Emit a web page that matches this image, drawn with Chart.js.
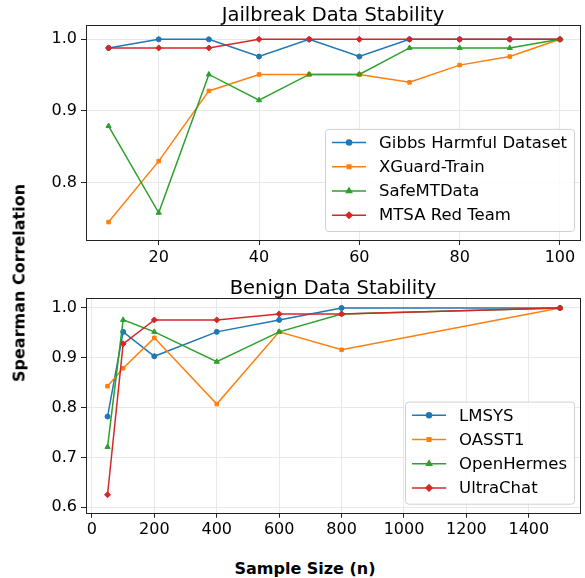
<!DOCTYPE html>
<html>
<head>
<meta charset="utf-8">
<script src="https://cdn.jsdelivr.net/npm/chart.js@4.4.0/dist/chart.umd.min.js"></script>
<style>
    body { margin: 0; background: #fff; width: 585px; height: 578px; position: relative; overflow: hidden; font-family: 'DejaVu Sans', sans-serif; }
    canvas { position: absolute; left: 0; }
    #jailbreakChart { top: 0; }
    #benignChart { top: 273px; }
    .ylabel { position: absolute; left: 19px; top: 283px; transform: translate(-50%, -50%) rotate(-90deg); font-weight: bold; font-size: 16px; white-space: nowrap; color: #000; }
    .xlabel { position: absolute; left: 305px; top: 568px; transform: translate(-50%, -50%); font-weight: bold; font-size: 16px; white-space: nowrap; color: #000; }
</style>
</head>
<body>
<canvas id="jailbreakChart" width="585" height="265"></canvas>
<canvas id="benignChart" width="585" height="267"></canvas>
<div class="ylabel">Spearman Correlation</div>
<div class="xlabel">Sample Size (n)</div>
<script>
// Jailbreak - dados
const jailbreakSizes = [10, 20, 30, 40, 50, 60, 70, 80, 90, 100];
const gibbsHarmful = [0.988, 1.0, 1.0, 0.976, 1.0, 0.976, 1.0, 1.0, 1.0, 1.0];
const xguardTrain = [0.745, 0.830, 0.928, 0.951, 0.951, 0.951, 0.940, 0.964, 0.976, 1.0];
const safeMTData = [0.879, 0.758, 0.951, 0.915, 0.951, 0.951, 0.988, 0.988, 0.988, 1.0];
const mtsaRedTeam = [0.988, 0.988, 0.988, 1.0, 1.0, 1.0, 1.0, 1.0, 1.0, 1.0];
const jailbreakXTicks = [20, 40, 60, 80, 100];
const jailbreakYTicks = [0.8, 0.9, 1.0];

// Benign
const benignSizes = [50, 100, 200, 400, 600, 800, 1500];
const lmsys = [0.782, 0.952, 0.903, 0.952, 0.976, 1.0, 1.0];
const oasst1 = [0.843, 0.879, 0.940, 0.807, 0.952, 0.916, 1.0];
const openHermes = [0.721, 0.976, 0.952, 0.892, 0.952, 0.988, 1.0];
const ultraChat = [0.625, 0.928, 0.976, 0.976, 0.988, 0.988, 1.0];
const benignXTicks = [0, 200, 400, 600, 800, 1000, 1200, 1400];
const benignYTicks = [0.6, 0.7, 0.8, 0.9, 1.0];

const cores = ['#1f77b4', '#ff7f0e', '#2ca02c', '#d62728'];
const marcadores = ['circle', 'rect', 'triangle', 'rectRot'];
const raios = [2.5, 2.5, 3, 3];

Chart.defaults.font.family = "'DejaVu Sans', sans-serif";
Chart.defaults.color = '#000';

// moldura dos eixos + titulo centrado na area do grafico (estilo matplotlib)
const frame = {
    id: 'frame',
    afterDatasetsDraw(chart, args, opts) {
        const { ctx, chartArea: a } = chart;
        ctx.save();
        ctx.strokeStyle = '#222';
        ctx.lineWidth = 1;
        ctx.strokeRect(Math.round(a.left) + 0.5, Math.round(a.top) + 0.5, Math.round(a.right - a.left), Math.round(a.bottom - a.top));
        ctx.fillStyle = '#000';
        ctx.font = "19.5px 'DejaVu Sans'";
        ctx.textAlign = 'center';
        ctx.textBaseline = 'alphabetic';
        ctx.fillText(opts.titulo, (a.left + a.right) / 2, a.top - 4.5);
        ctx.restore();
    }
};

// legenda dentro do grafico, canto inferior direito
const legendBox = {
    id: 'legendBox',
    afterDraw(chart) {
        const { ctx, chartArea: a } = chart;
        const sets = chart.data.datasets;
        ctx.save();
        ctx.font = "16.5px 'DejaVu Sans'";
        const textW = Math.max(...sets.map(d => ctx.measureText(d.label).width));
        const w = 7 + 34 + 13 + textW + 7;
        const h = 13.7 + 24.2 * (sets.length - 1) + 15.8;
        const x0 = a.right - 6 - w;
        const y0 = a.bottom - 9 - h;
        ctx.beginPath();
        ctx.roundRect(x0 + 0.5, y0 + 0.5, w, h, 3);
        ctx.fillStyle = 'rgba(255,255,255,0.8)';
        ctx.fill();
        ctx.strokeStyle = '#d0d0d0';
        ctx.lineWidth = 1;
        ctx.stroke();
        sets.forEach((d, i) => {
            const y = y0 + 13.7 + i * 24.2;
            ctx.beginPath();
            ctx.moveTo(x0 + 7, y);
            ctx.lineTo(x0 + 41, y);
            ctx.strokeStyle = d.borderColor;
            ctx.lineWidth = 1.5;
            ctx.stroke();
            ctx.fillStyle = d.borderColor;
            ctx.strokeStyle = d.borderColor;
            Chart.helpers.drawPoint(ctx, { pointStyle: d.pointStyle, radius: d.pointRadius, borderWidth: 1 }, x0 + 24, y);
            ctx.fillStyle = '#000';
            ctx.textBaseline = 'middle';
            ctx.textAlign = 'left';
            ctx.fillText(d.label, x0 + 54, y + 1);
        });
        ctx.restore();
    }
};

function montarSeries(nomes, valores, xs) {
    return nomes.map((nome, i) => ({
        label: nome,
        data: xs.map((x, j) => ({ x: x, y: valores[i][j] })),
        borderColor: cores[i],
        backgroundColor: cores[i],
        pointStyle: marcadores[i],
        pointRadius: raios[i],
        pointBorderWidth: 1,
        borderWidth: 1.5,
        tension: 0,
        fill: false,
        order: nomes.length - 1 - i
    }));
}

function criarGrafico(id, titulo, datasets, xMin, xMax, xTicks, yMin, yMax, yTicks, xAxisH) {
    return new Chart(document.getElementById(id), {
        type: 'line',
        data: { datasets: datasets },
        options: {
            responsive: false,
            animation: false,
            layout: { padding: { left: 0, right: 4, top: 25, bottom: 0 } },
            plugins: {
                legend: { display: false },
                tooltip: { enabled: false },
                title: { display: false },
                frame: { titulo: titulo }
            },
            scales: {
                x: {
                    type: 'linear',
                    min: xMin,
                    max: xMax,
                    afterBuildTicks: s => { s.ticks = xTicks.map(v => ({ value: v })); },
                    afterFit: s => { s.height = xAxisH; },
                    ticks: { font: { size: 16 }, color: '#000', padding: 3, maxRotation: 0, callback: v => String(v) },
                    grid: { color: '#e8e8e8', tickColor: '#222', tickLength: 5 },
                    border: { display: false }
                },
                y: {
                    min: yMin,
                    max: yMax,
                    afterBuildTicks: s => { s.ticks = yTicks.map(v => ({ value: v })); },
                    afterFit: s => { s.width = 86; },
                    ticks: { font: { size: 16 }, color: '#000', padding: 4, callback: v => v.toFixed(1) },
                    grid: { color: '#e8e8e8', tickColor: '#222', tickLength: 5 },
                    border: { display: false }
                }
            }
        },
        plugins: [frame, legendBox]
    });
}

criarGrafico('jailbreakChart', 'Jailbreak Data Stability',
    montarSeries(['Gibbs Harmful Dataset', 'XGuard-Train', 'SafeMTData', 'MTSA Red Team'],
        [gibbsHarmful, xguardTrain, safeMTData, mtsaRedTeam], jailbreakSizes),
    5.5, 104, jailbreakXTicks, 0.72, 1.02, jailbreakYTicks, 25);

criarGrafico('benignChart', 'Benign Data Stability',
    montarSeries(['LMSYS', 'OASST1', 'OpenHermes', 'UltraChat'],
        [lmsys, oasst1, openHermes, ultraChat], benignSizes),
    -19, 1564, benignXTicks, 0.589, 1.02, benignYTicks, 27.3);
</script>
</body>
</html>
